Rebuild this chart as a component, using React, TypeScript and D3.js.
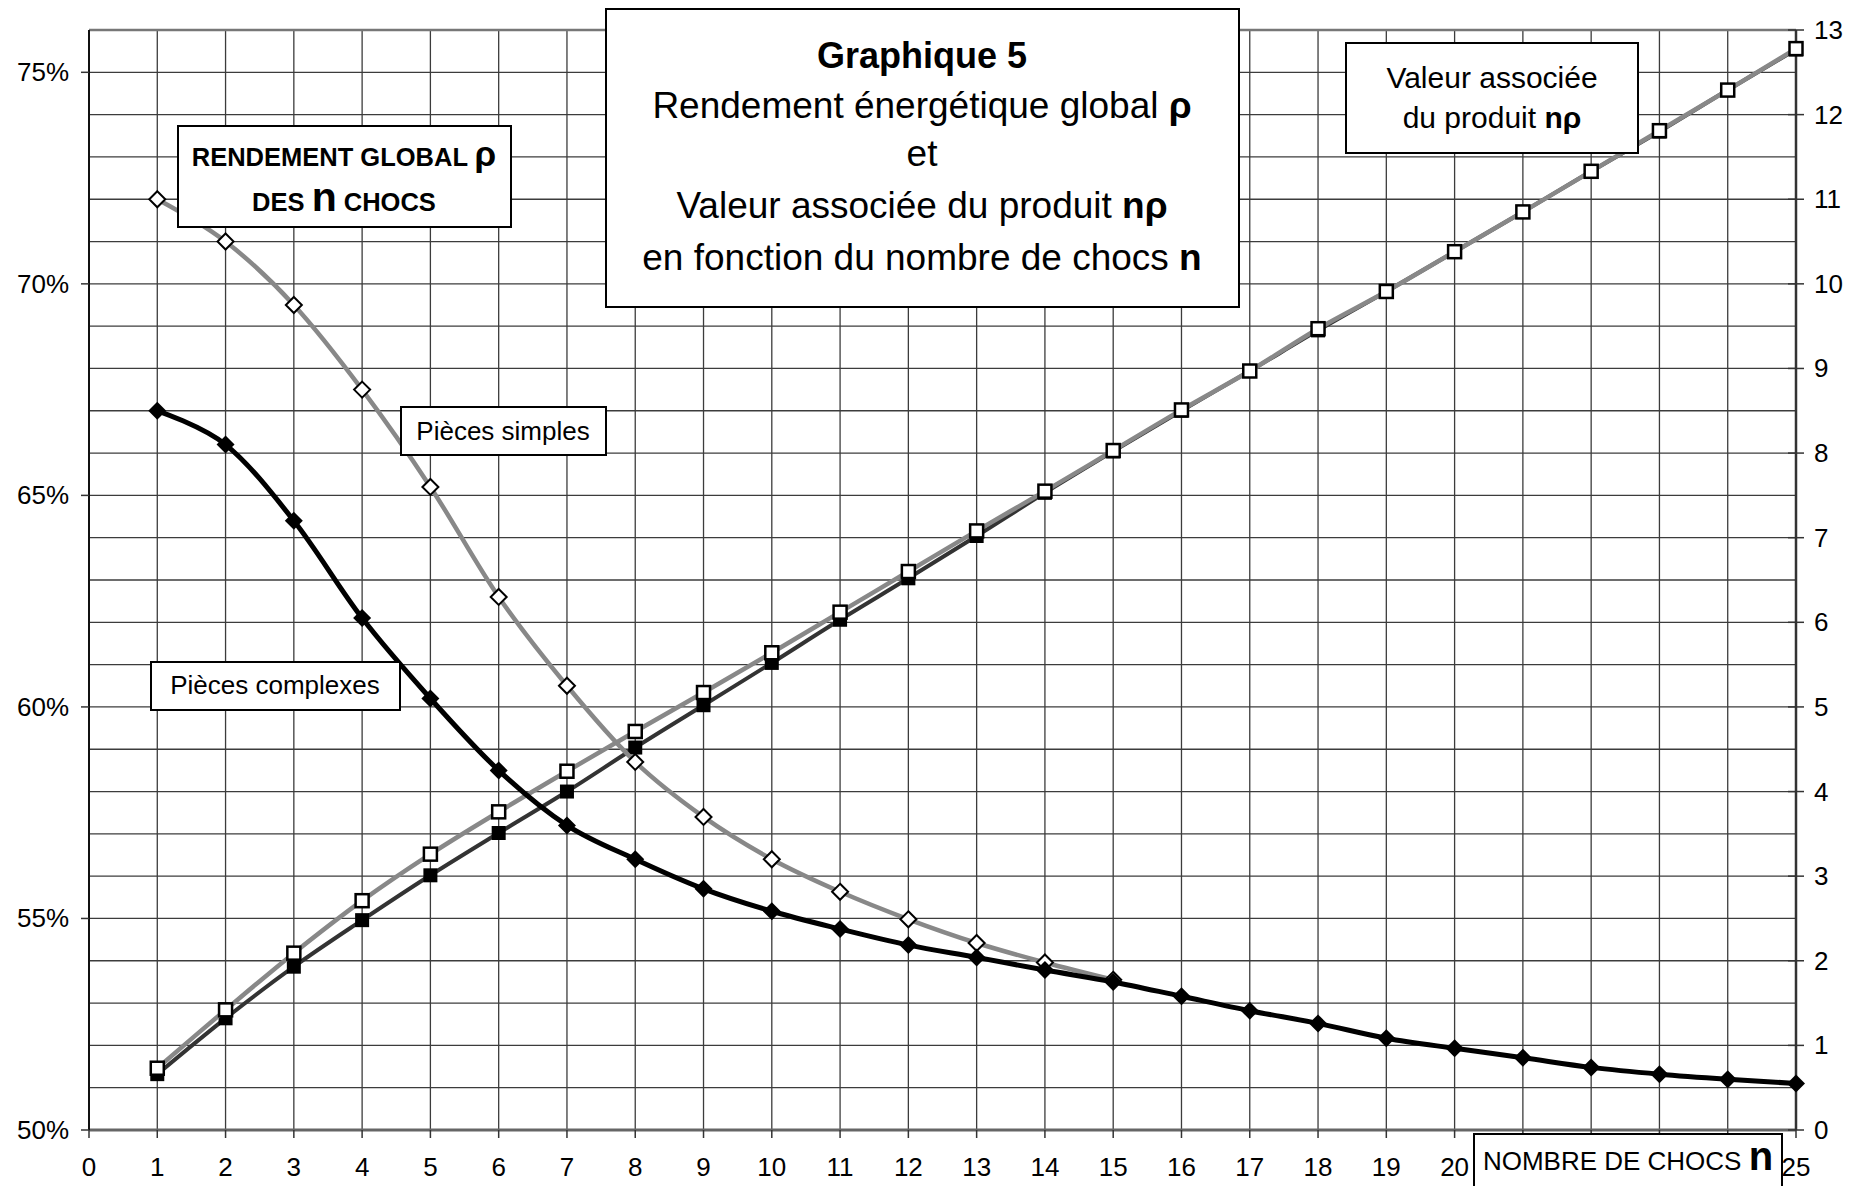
import * as d3 from 'd3';
import React from 'react';

// n = nombre de chocs
const chocs = d3.range(1, 26);
const chocsSimples = d3.range(1, 16);

// rendement global rho (%)
const rhoSimples = [72.0, 71.0, 69.5, 67.5, 65.2, 62.6, 60.5, 58.7, 57.4, 56.4, 55.63, 54.98, 54.42, 53.96, 53.55];
const rhoComplexes = [
  67.0, 66.2, 64.4, 62.1, 60.2, 58.5, 57.2, 56.4, 55.7, 55.17, 54.75, 54.37, 54.08, 53.78, 53.5, 53.16, 52.82,
  52.52, 52.17, 51.93, 51.71, 51.48, 51.32, 51.2, 51.1,
];

// valeur associée du produit n.rho
const nRhoSimples = [
  0.73, 1.42, 2.09, 2.71, 3.26, 3.76, 4.24, 4.71, 5.17, 5.64, 6.12, 6.6, 7.08, 7.55, 8.03, 8.51, 8.97, 9.47, 9.91,
  10.38, 10.85, 11.33, 11.81, 12.29, 12.78,
];
const nRhoComplexes = [
  0.66, 1.32, 1.93, 2.48, 3.01, 3.51, 4.0, 4.52, 5.02, 5.52, 6.03, 6.52, 7.02, 7.53, 8.02, 8.5, 8.97, 9.45, 9.91,
  10.38, 10.85, 11.33, 11.8, 12.29, 12.77,
];

const xTicks = d3.range(0, 26);
// 21 à 24 sont cachés par le cartouche "NOMBRE DE CHOCS n"
const xLabels = xTicks.filter((n) => n < 21 || n > 24);
const leftTicks = [50, 55, 60, 65, 70, 75];
const rightTicks = d3.range(0, 14);
const gridPct = d3.range(50, 77);

const W = 1865;
const H = 1186;
const FONT = '"Liberation Sans", Arial, sans-serif';

export default function App() {
  const x = d3.scaleLinear().domain([0, 25]).range([89, 1796]);
  const yL = d3.scaleLinear().domain([50, 76]).range([1130, 30]);
  const yR = d3.scaleLinear().domain([0, 13]).range([1130, 30]);

  const curve = d3.curveCardinal.tension(0);
  const lineL = d3
    .line<[number, number]>()
    .x((d) => x(d[0]))
    .y((d) => yL(d[1]))
    .curve(curve);
  const lineR = d3
    .line<[number, number]>()
    .x((d) => x(d[0]))
    .y((d) => yR(d[1]))
    .curve(curve);

  const simples = chocsSimples.map((n, i) => [n, rhoSimples[i]] as [number, number]);
  const complexes = chocs.map((n, i) => [n, rhoComplexes[i]] as [number, number]);
  const nrS = chocs.map((n, i) => [n, nRhoSimples[i]] as [number, number]);
  const nrC = chocs.map((n, i) => [n, nRhoComplexes[i]] as [number, number]);

  const diamond = (cx: number, cy: number, r: number) =>
    `M${cx},${cy - r}L${cx + r},${cy}L${cx},${cy + r}L${cx - r},${cy}Z`;

  const [x0, x1] = x.range();
  const [yb, yt] = yL.range();

  return (
    <div style={{ position: 'absolute', left: 0, top: 0 }}>
      <svg width={W} height={H} style={{ display: 'block', background: '#fff' }} fontFamily={FONT}>
        <rect width={W} height={H} fill="#fff" />

        {/* grille */}
        <g stroke="#3c3c3c" strokeWidth={1.3}>
          {gridPct.map((p) => (
            <line key={'h' + p} x1={x0} x2={x1} y1={yL(p)} y2={yL(p)} />
          ))}
          {xTicks.slice(1, 25).map((n) => (
            <line key={'v' + n} x1={x(n)} x2={x(n)} y1={yt} y2={yb} />
          ))}
        </g>
        <line x1={x0} x2={x1} y1={yt} y2={yt} stroke="#777" strokeWidth={2.5} />
        <line x1={x0} x2={x1} y1={yb} y2={yb} stroke="#666" strokeWidth={3} />
        <line x1={x0} x2={x0} y1={yt} y2={yb} stroke="#111" strokeWidth={2} />
        <line x1={x1} x2={x1} y1={yt} y2={yb} stroke="#333" strokeWidth={2.5} />

        {/* axes */}
        <g fontSize={26} fill="#000">
          {leftTicks.map((p) => (
            <g key={'l' + p}>
              <line x1={x0 - 8} x2={x0} y1={yL(p)} y2={yL(p)} stroke="#333" strokeWidth={1.5} />
              <text x={x0 - 20} y={yL(p)} textAnchor="end" dominantBaseline="central">
                {p}%
              </text>
            </g>
          ))}
          {rightTicks.map((v) => (
            <g key={'r' + v}>
              <line x1={x1 - 8} x2={x1 + 8} y1={yR(v)} y2={yR(v)} stroke="#333" strokeWidth={1.5} />
              <text x={x1 + 18} y={yR(v)} textAnchor="start" dominantBaseline="central">
                {v}
              </text>
            </g>
          ))}
          {xTicks.map((n) => (
            <line key={'bt' + n} x1={x(n)} x2={x(n)} y1={yb} y2={yb + 8} stroke="#333" strokeWidth={1.5} />
          ))}
          {xLabels.map((n) => (
            <text key={'b' + n} x={x(n)} y={1176} textAnchor="middle">
              {n}
            </text>
          ))}
        </g>

        {/* n.rho pièces complexes */}
        <path d={lineR(nrC) ?? ''} fill="none" stroke="#333" strokeWidth={4} />
        {nrC.map(([n, v]) => (
          <rect key={'sc' + n} x={x(n) - 7} y={yR(v) - 7} width={14} height={14} fill="#000" />
        ))}

        {/* n.rho pièces simples */}
        <path d={lineR(nrS) ?? ''} fill="none" stroke="#888" strokeWidth={4.5} />
        {nrS.map(([n, v]) => (
          <rect
            key={'ss' + n}
            x={x(n) - 6.5}
            y={yR(v) - 6.5}
            width={13}
            height={13}
            fill="#fff"
            stroke="#000"
            strokeWidth={2.5}
          />
        ))}

        {/* rho pièces simples */}
        <path d={lineL(simples) ?? ''} fill="none" stroke="#888" strokeWidth={4.5} />
        {simples.map(([n, v]) => (
          <path key={'ds' + n} d={diamond(x(n), yL(v), 8)} fill="#fff" stroke="#000" strokeWidth={2} />
        ))}

        {/* rho pièces complexes */}
        <path d={lineL(complexes) ?? ''} fill="none" stroke="#000" strokeWidth={5} />
        {complexes.map(([n, v]) => (
          <path key={'dc' + n} d={diamond(x(n), yL(v), 9)} fill="#000" />
        ))}

        {/* cartouches */}
        <g stroke="#000" strokeWidth={2} fill="#fff">
          <rect x={606} y={9} width={633} height={298} />
          <rect x={1346} y={43} width={292} height={110} />
          <rect x={178} y={126} width={333} height={101} />
          <rect x={401} y={407} width={205} height={48} />
          <rect x={151} y={662} width={249} height={48} />
          <rect x={1474} y={1134} width={308} height={70} />
        </g>

        <g fill="#000" textAnchor="middle">
          <text x={922} y={68} fontSize={36} fontWeight="bold">
            Graphique 5
          </text>
          <text x={922} y={118} fontSize={37}>
            Rendement énergétique global <tspan fontWeight="bold">ρ</tspan>
          </text>
          <text x={922} y={166} fontSize={37}>
            et
          </text>
          <text x={922} y={218} fontSize={37}>
            Valeur associée du produit <tspan fontWeight="bold">nρ</tspan>
          </text>
          <text x={922} y={270} fontSize={37}>
            en fonction du nombre de chocs <tspan fontWeight="bold">n</tspan>
          </text>

          <text x={1492} y={88} fontSize={30}>
            Valeur associée
          </text>
          <text x={1492} y={128} fontSize={30}>
            du produit <tspan fontWeight="bold">nρ</tspan>
          </text>

          <text x={344} y={166} fontSize={25.5} fontWeight="bold">
            RENDEMENT GLOBAL <tspan fontSize={35}>ρ</tspan>
          </text>
          <text x={344} y={211} fontSize={25.5} fontWeight="bold">
            DES <tspan fontSize={41}>n</tspan> CHOCS
          </text>

          <text x={503} y={440} fontSize={26}>
            Pièces simples
          </text>
          <text x={275} y={694} fontSize={26}>
            Pièces complexes
          </text>

          <text x={1628} y={1170} fontSize={26}>
            NOMBRE DE CHOCS <tspan fontSize={40} fontWeight="bold">n</tspan>
          </text>
        </g>
      </svg>
    </div>
  );
}
